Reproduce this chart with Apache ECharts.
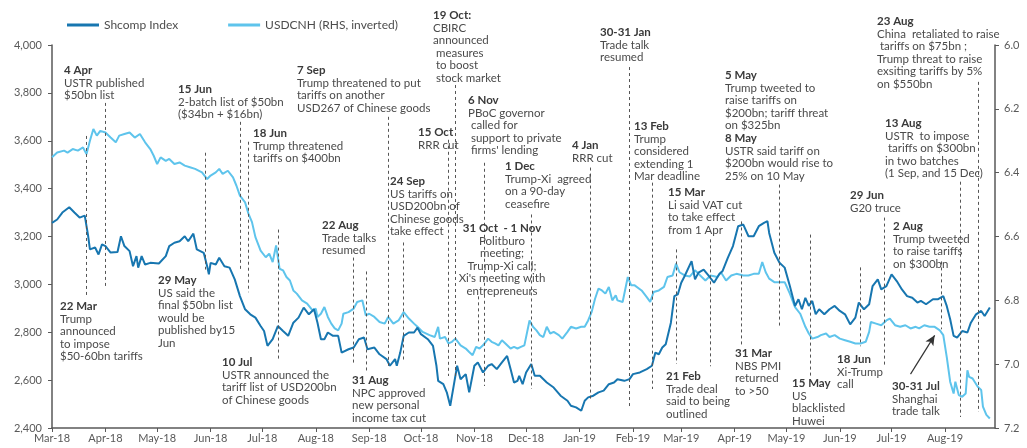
<!DOCTYPE html>
<html><head><meta charset="utf-8">
<script src="https://cdn.jsdelivr.net/npm/echarts@6/dist/echarts.min.js"></script>
<style>html,body{margin:0;padding:0;background:#fff}#c{width:1027px;height:448px}</style>
</head><body><div id="c"></div>
<script>
// ---------- DATA ----------
const seriesNames = ['Shcomp Index', 'USDCNH (RHS, inverted)'];
const monthNames = ['Jan','Feb','Mar','Apr','May','Jun','Jul','Aug','Sep','Oct','Nov','Dec'];
const leftTicks = [2400, 4000, 200];
const rightTicks = [6.0, 7.2, 0.2];
const xRange = ['2018-03-01', '2019-08-30'];

const shDates = ['2018-03-01','2018-03-04','2018-03-07','2018-03-11','2018-03-14','2018-03-17','2018-03-20','2018-03-22','2018-03-23','2018-03-26','2018-03-28','2018-03-30','2018-04-01','2018-04-04','2018-04-08','2018-04-10','2018-04-12','2018-04-15','2018-04-17','2018-04-19','2018-04-20','2018-04-22','2018-04-24','2018-04-27','2018-05-02','2018-05-06','2018-05-08','2018-05-11','2018-05-14','2018-05-17','2018-05-19','2018-05-22','2018-05-24','2018-05-28','2018-05-30','2018-05-31','2018-06-01','2018-06-04','2018-06-06','2018-06-09','2018-06-12','2018-06-15','2018-06-18','2018-06-21','2018-06-24','2018-06-27','2018-06-30','2018-07-02','2018-07-04','2018-07-07','2018-07-10','2018-07-13','2018-07-16','2018-07-19','2018-07-22','2018-07-25','2018-07-28','2018-07-31','2018-08-02','2018-08-04','2018-08-06','2018-08-08','2018-08-11','2018-08-14','2018-08-16','2018-08-20','2018-08-23','2018-08-26','2018-08-29','2018-08-31','2018-09-04','2018-09-07','2018-09-11','2018-09-13','2018-09-16','2018-09-17','2018-09-19','2018-09-21','2018-09-24','2018-09-27','2018-09-29','2018-10-01','2018-10-05','2018-10-08','2018-10-10','2018-10-11','2018-10-14','2018-10-16','2018-10-18','2018-10-20','2018-10-22','2018-10-24','2018-10-27','2018-10-29','2018-11-01','2018-11-03','2018-11-06','2018-11-09','2018-11-11','2018-11-14','2018-11-17','2018-11-20','2018-11-22','2018-11-24','2018-11-26','2018-11-27','2018-11-29','2018-12-01','2018-12-04','2018-12-06','2018-12-09','2018-12-13','2018-12-17','2018-12-21','2018-12-25','2018-12-27','2018-12-30','2019-01-02','2019-01-04','2019-01-06','2019-01-09','2019-01-12','2019-01-15','2019-01-18','2019-01-21','2019-01-23','2019-01-27','2019-01-30','2019-02-01','2019-02-05','2019-02-09','2019-02-12','2019-02-14','2019-02-16','2019-02-18','2019-02-20','2019-02-21','2019-02-23','2019-02-25','2019-02-27','2019-03-01','2019-03-03','2019-03-07','2019-03-09','2019-03-11','2019-03-14','2019-03-17','2019-03-20','2019-03-23','2019-03-25','2019-03-28','2019-03-31','2019-04-03','2019-04-06','2019-04-09','2019-04-12','2019-04-15','2019-04-18','2019-04-20','2019-04-21','2019-04-24','2019-04-27','2019-04-30','2019-05-03','2019-05-06','2019-05-08','2019-05-10','2019-05-12','2019-05-14','2019-05-16','2019-05-18','2019-05-20','2019-05-23','2019-05-26','2019-05-29','2019-06-01','2019-06-04','2019-06-07','2019-06-10','2019-06-12','2019-06-15','2019-06-18','2019-06-20','2019-06-23','2019-06-25','2019-06-28','2019-07-01','2019-07-04','2019-07-07','2019-07-10','2019-07-13','2019-07-16','2019-07-18','2019-07-21','2019-07-25','2019-07-28','2019-07-31','2019-08-02','2019-08-04','2019-08-06','2019-08-08','2019-08-11','2019-08-14','2019-08-16','2019-08-19','2019-08-22','2019-08-24','2019-08-27'];
const shValues = [3257,3271,3300,3322,3300,3279,3287,3201,3146,3154,3125,3167,3160,3133,3135,3201,3160,3139,3076,3118,3070,3118,3083,3090,3087,3118,3160,3174,3180,3201,3180,3212,3146,3132,3076,3042,3090,3083,3111,3076,3070,3021,2951,2896,2875,2861,2826,2805,2743,2771,2826,2805,2785,2840,2861,2903,2875,2896,2840,2771,2771,2799,2785,2785,2715,2729,2736,2771,2778,2729,2736,2708,2688,2660,2688,2660,2715,2785,2799,2799,2819,2792,2771,2743,2660,2597,2583,2549,2493,2576,2660,2604,2625,2549,2660,2674,2632,2660,2667,2646,2674,2701,2646,2590,2597,2618,2583,2632,2667,2618,2618,2590,2569,2535,2514,2493,2486,2472,2514,2528,2535,2549,2556,2583,2590,2604,2597,2604,2625,2632,2646,2660,2715,2708,2736,2750,2757,2840,2951,2958,3007,3035,3097,3021,3049,3062,3035,3007,3042,3056,3111,3160,3243,3250,3201,3201,3243,3257,3264,3215,3132,3090,3070,2993,2910,2938,2896,2944,2910,2931,2875,2896,2875,2896,2910,2889,2875,2833,2861,2924,2896,2917,2993,3021,2979,2993,3042,3014,2979,2951,2944,2924,2931,2917,2938,2938,2951,2910,2854,2785,2778,2805,2799,2840,2875,2889,2868,2903];

const fxDates = ['2018-03-01','2018-03-04','2018-03-08','2018-03-10','2018-03-13','2018-03-16','2018-03-19','2018-03-21','2018-03-23','2018-03-25','2018-03-27','2018-03-29','2018-04-01','2018-04-04','2018-04-07','2018-04-09','2018-04-12','2018-04-15','2018-04-18','2018-04-21','2018-04-24','2018-04-27','2018-04-29','2018-05-01','2018-05-03','2018-05-06','2018-05-08','2018-05-11','2018-05-14','2018-05-17','2018-05-20','2018-05-23','2018-05-27','2018-05-30','2018-06-01','2018-06-04','2018-06-06','2018-06-08','2018-06-11','2018-06-14','2018-06-16','2018-06-18','2018-06-21','2018-06-23','2018-06-25','2018-06-27','2018-06-30','2018-07-03','2018-07-05','2018-07-07','2018-07-09','2018-07-11','2018-07-13','2018-07-15','2018-07-17','2018-07-19','2018-07-21','2018-07-24','2018-07-27','2018-07-30','2018-08-01','2018-08-02','2018-08-04','2018-08-06','2018-08-08','2018-08-10','2018-08-12','2018-08-14','2018-08-16','2018-08-17','2018-08-20','2018-08-23','2018-08-25','2018-08-28','2018-08-30','2018-09-01','2018-09-04','2018-09-07','2018-09-10','2018-09-12','2018-09-15','2018-09-18','2018-09-21','2018-09-24','2018-09-27','2018-09-29','2018-10-02','2018-10-06','2018-10-09','2018-10-11','2018-10-12','2018-10-15','2018-10-17','2018-10-19','2018-10-21','2018-10-24','2018-10-27','2018-10-29','2018-10-31','2018-11-02','2018-11-04','2018-11-06','2018-11-09','2018-11-11','2018-11-13','2018-11-15','2018-11-17','2018-11-19','2018-11-22','2018-11-24','2018-11-26','2018-11-28','2018-11-30','2018-12-03','2018-12-05','2018-12-07','2018-12-09','2018-12-11','2018-12-13','2018-12-15','2018-12-17','2018-12-20','2018-12-22','2018-12-25','2018-12-27','2018-12-30','2019-01-02','2019-01-04','2019-01-06','2019-01-08','2019-01-10','2019-01-12','2019-01-14','2019-01-16','2019-01-18','2019-01-20','2019-01-22','2019-01-23','2019-01-26','2019-01-29','2019-01-31','2019-02-02','2019-02-06','2019-02-09','2019-02-11','2019-02-13','2019-02-16','2019-02-19','2019-02-21','2019-02-24','2019-02-26','2019-02-28','2019-03-03','2019-03-06','2019-03-09','2019-03-12','2019-03-15','2019-03-18','2019-03-22','2019-03-24','2019-03-27','2019-03-30','2019-04-02','2019-04-06','2019-04-09','2019-04-12','2019-04-15','2019-04-17','2019-04-19','2019-04-21','2019-04-24','2019-04-27','2019-04-30','2019-05-03','2019-05-06','2019-05-09','2019-05-12','2019-05-14','2019-05-16','2019-05-19','2019-05-21','2019-05-24','2019-05-26','2019-05-29','2019-06-01','2019-06-04','2019-06-07','2019-06-10','2019-06-13','2019-06-16','2019-06-18','2019-06-19','2019-06-22','2019-06-25','2019-06-28','2019-06-30','2019-07-03','2019-07-06','2019-07-09','2019-07-12','2019-07-15','2019-07-17','2019-07-20','2019-07-23','2019-07-26','2019-07-29','2019-07-31','2019-08-02','2019-08-04','2019-08-06','2019-08-07','2019-08-09','2019-08-11','2019-08-13','2019-08-14','2019-08-15','2019-08-17','2019-08-20','2019-08-22','2019-08-23','2019-08-25','2019-08-27'];
const fxValues = [6.352,6.337,6.331,6.337,6.326,6.331,6.321,6.342,6.300,6.263,6.284,6.269,6.274,6.290,6.305,6.284,6.279,6.274,6.290,6.279,6.305,6.326,6.347,6.373,6.352,6.363,6.357,6.373,6.368,6.378,6.383,6.388,6.399,6.420,6.409,6.399,6.388,6.404,6.394,6.415,6.441,6.472,6.493,6.529,6.555,6.602,6.644,6.665,6.654,6.680,6.628,6.701,6.706,6.727,6.738,6.769,6.779,6.800,6.810,6.831,6.826,6.852,6.842,6.821,6.852,6.873,6.888,6.894,6.873,6.842,6.837,6.826,6.805,6.800,6.847,6.842,6.852,6.868,6.873,6.852,6.873,6.863,6.837,6.857,6.873,6.883,6.899,6.909,6.915,6.883,6.920,6.915,6.935,6.930,6.920,6.941,6.951,6.962,6.972,6.946,6.951,6.941,6.920,6.930,6.935,6.941,6.925,6.935,6.951,6.946,6.951,6.946,6.941,6.863,6.883,6.894,6.909,6.915,6.883,6.904,6.899,6.909,6.920,6.899,6.883,6.888,6.883,6.883,6.863,6.837,6.795,6.763,6.769,6.779,6.758,6.800,6.784,6.800,6.805,6.727,6.753,6.753,6.769,6.790,6.805,6.774,6.769,6.758,6.727,6.722,6.685,6.712,6.722,6.725,6.706,6.722,6.738,6.722,6.727,6.712,6.738,6.722,6.717,6.722,6.722,6.717,6.717,6.680,6.712,6.732,6.743,6.743,6.743,6.779,6.821,6.842,6.883,6.904,6.920,6.915,6.909,6.904,6.915,6.909,6.920,6.925,6.930,6.935,6.935,6.930,6.899,6.868,6.873,6.878,6.863,6.857,6.878,6.883,6.878,6.888,6.883,6.888,6.878,6.883,6.883,6.894,6.909,6.977,7.055,7.092,7.055,7.097,7.102,7.092,7.019,7.040,7.045,7.071,7.081,7.133,7.159,7.170];

// event marker lines: date, and the Shcomp-axis span they cover
const eventDates  = ['2018-03-21','2018-04-01','2018-05-29','2018-06-18','2018-06-23','2018-07-10','2018-08-23','2018-08-30','2018-09-12','2018-09-21','2018-10-17','2018-10-21','2018-11-03','2018-11-07','2018-12-04','2019-01-07','2019-01-30','2019-02-12','2019-02-26','2019-03-18','2019-04-05','2019-04-27','2019-05-15','2019-06-13','2019-06-27','2019-07-30','2019-08-10','2019-08-20'];
const eventTop    = [3620,3758,3550,3679,3596,3229,3112,3054,3700,3175,3604,3833,2950,3508,3292,3488,3908,3425,3146,3188,3263,3417,3208,3071,3279,3096,3429,3846];
const eventBottom = [2954,2992,3062,3054,2967,2688,2667,2638,2658,2675,2617,2617,2758,2575,2563,2521,2479,2563,2667,2658,2742,2825,2617,2742,2658,2813,2446,2467];
const arrowFrom = ['2019-07-12', 2625];
const arrowTo   = ['2019-07-26', 2787];

// annotation texts
const noteTitles = ['4 Apr','22 Mar','15 Jun','18 Jun','29 May','10 Jul','7 Sep','22 Aug','31 Aug','24 Sep','15 Oct','19 Oct:','6 Nov','31 Oct  - 1 Nov','1 Dec','4 Jan','30-31 Jan','13 Feb','15 Mar','21 Feb','5 May','8 May','31 Mar','15 May','18 Jun','29 Jun','2 Aug','13 Aug','23 Aug','30-31 Jul'];
const noteBodies = [
 ['USTR published','$50bn list'],
 ['Trump','announced','to impose','$50-60bn tariffs'],
 ['2-batch list of $50bn','($34bn + $16bn)'],
 ['Trump threatened','tariffs on $400bn'],
 ['US said the','final $50bn list','would be','published by15','Jun'],
 ['USTR announced the','tariff list of USD200bn','of Chinese goods'],
 ['Trump threatened to put','tariffs on another','USD267 of Chinese goods'],
 ['Trade talks','resumed'],
 ['NPC approved','new personal','income tax cut'],
 ['US tariffs on','USD200bn of','Chinese goods','take effect'],
 ['RRR cut'],
 ['CBIRC','announced',' measures',' to boost',' stock market'],
 ['PBoC governor',' called for',' support to private',' firms\' lending'],
 ['Politburo','meeting;','Trump-Xi call;','Xi\'s meeting with','entrepreneurs'],
 ['Trump-Xi  agreed','on a 90-day','ceasefire'],
 ['RRR cut'],
 ['Trade talk','resumed'],
 ['Trump','considered','extending 1','Mar deadline'],
 ['Li said VAT cut','to take effect','from 1 Apr'],
 ['Trade deal','said to being','outlined'],
 ['Trump tweeted to','raise tariffs on','$200bn; tariff threat','on $325bn'],
 ['USTR said tariff on','$200bn would rise to','25% on 10 May'],
 ['NBS PMI','returned','to >50'],
 ['US','blacklisted','Huwei'],
 ['Xi-Trump','call'],
 ['G20 truce'],
 ['Trump tweeted','to raise tariffs','on $300bn'],
 ['USTR  to impose',' tariffs on $300bn','in two batches','(1 Sep, and 15 Dec)'],
 ['China  retaliated to raise',' tariffs on $75bn ;','Trump threat to raise','exsiting tariffs by 5%','on $550bn'],
 ['Shanghai','trade talk']
];

// ---------- LAYOUT (pixel placement of annotation text) ----------
const notePos = [[64,64],[60,300],[178,83],[253,127],[158,274],[222,356],[297,64],[322,219],[352,374],[390,175],[418,126],[433,9],[468,94],[502,222,'center'],[505,160],[572,139],[600,26],[634,120],[668,186],[666,370],[725,69],[725,132],[735,347],[792,377],[837,353],[850,189],[893,220],[885,117],[877,15],[892,380]];

const FONT = 'Lato';
const LH = 12.6;
const DARK = '#1776b0', LIGHT = '#5ec4ec';

const chart = echarts.init(document.getElementById('c'), null, {renderer: 'canvas'});

const graphics = [];
noteTitles.forEach((t, i) => {
  const p = notePos[i];
  const align = p[2] || 'left';
  graphics.push({type:'text', x:p[0], y:p[1], silent:true, z:100,
    style:{text:t, font:'bold 11.5px ' + FONT, fill:'#3a3a3a', align:align, verticalAlign:'top', lineHeight:LH}});
  graphics.push({type:'text', x:p[0], y:p[1] + LH, silent:true, z:100,
    style:{text:noteBodies[i].join('\n'), font:'11.5px ' + FONT, fill:'#4a4a4a', align:align, verticalAlign:'top', lineHeight:LH}});
});

const markData = eventDates.map((d, i) => [{coord:[d, eventTop[i]]}, {coord:[d, eventBottom[i]]}]);
markData.push([
  {coord: arrowFrom, symbol:'none', lineStyle:{type:'solid', color:'#333', width:1.2}},
  {coord: arrowTo, symbol:'arrow', symbolSize:[7,10]}
]);

const axisLabelStyle = {color:'#595959', fontSize:11, fontFamily:FONT};

chart.setOption({
  animation: false,
  textStyle: {fontFamily: FONT},
  legend: {
    left: 62, top: 14, itemWidth: 32, itemHeight: 3, itemGap: 50, icon: 'rect',
    data: seriesNames,
    textStyle: {color:'#4d4d4d', fontSize:12, fontFamily:FONT}
  },
  grid: {left: 52, right: 32, top: 45, bottom: 20, containLabel: false},
  xAxis: {
    type: 'time', min: xRange[0], max: xRange[1], splitNumber: 18,
    minInterval: 28 * 86400000, maxInterval: 31 * 86400000,
    axisLine: {lineStyle: {color:'#595959', width:1.5}},
    axisTick: {show: true, length: 4, lineStyle:{color:'#595959'}},
    splitLine: {show: false},
    axisLabel: Object.assign({margin: 5, hideOverlap: false, formatter: function (v) {
      const d = new Date(v);
      return monthNames[d.getMonth()] + '-' + String(d.getFullYear()).slice(2);
    }}, axisLabelStyle)
  },
  yAxis: [{
    type: 'value', min: leftTicks[0], max: leftTicks[1], interval: leftTicks[2],
    axisLine: {show: true, lineStyle: {color:'#595959', width:1.5}},
    axisTick: {show: true, length: 4, lineStyle:{color:'#595959'}},
    splitLine: {show: false},
    axisLabel: Object.assign({margin: 10, formatter: v => v.toLocaleString('en-US')}, axisLabelStyle)
  }, {
    type: 'value', min: rightTicks[0], max: rightTicks[1], interval: rightTicks[2], inverse: true,
    axisLine: {show: true, lineStyle: {color:'#595959', width:1.5}},
    axisTick: {show: true, length: 4, lineStyle:{color:'#595959'}},
    splitLine: {show: false},
    axisLabel: Object.assign({margin: 9, formatter: v => v.toFixed(1)}, axisLabelStyle)
  }],
  series: [{
    name: seriesNames[1], type: 'line', yAxisIndex: 1, showSymbol: false, symbol: 'none',
    color: LIGHT, lineStyle: {width: 2, color: LIGHT},
    data: fxDates.map((d, i) => [d, fxValues[i]])
  }, {
    name: seriesNames[0], type: 'line', yAxisIndex: 0, showSymbol: false, symbol: 'none',
    color: DARK, lineStyle: {width: 2, color: DARK},
    data: shDates.map((d, i) => [d, shValues[i]]),
    markLine: {
      silent: true, symbol: 'none', animation: false,
      label: {show: false},
      lineStyle: {type: [3, 3], color: '#555', width: 1},
      emphasis: {disabled: true},
      data: markData
    }
  }],
  graphic: graphics
});
</script>
</body></html>
